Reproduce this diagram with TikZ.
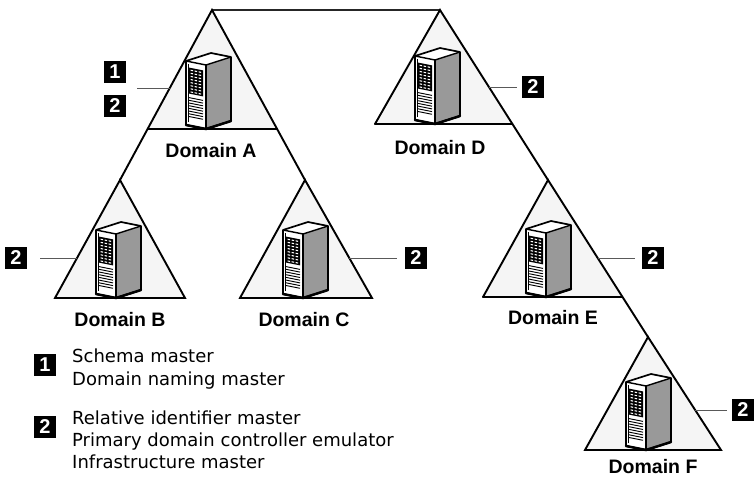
\documentclass[tikz,border=0pt]{standalone}
\usepackage{fontspec}
\setmainfont{DejaVu Sans}
\newfontfamily\labelfont{Liberation Sans}
\begin{document}
\begin{tikzpicture}[x=1pt,y=-1pt,
  domfill/.style={fill=black!4},
  edge/.style={draw=black, line width=1.9pt, line join=miter, line cap=round},
  topline/.style={draw=black!85, line width=1.5pt},
  lead/.style={draw=black!65, line width=0.9pt},
  badge/.style={fill=black, text=white, font=\labelfont\bfseries\fontsize{20}{20}\selectfont,
    minimum width=22pt, minimum height=22pt, inner sep=0pt},
  dom/.style={font=\labelfont\bfseries\fontsize{19.5}{19.5}\selectfont, inner sep=0pt},
  legend/.style={font=\fontsize{18}{21}\selectfont, anchor=base west, inner sep=0pt},
  pics/server/.style={code={
    % side face (stippled grey)
    \begin{scope}[yslant=0.32]
      \fill[black!40] (0,0) rectangle (25,-64);
    \end{scope}
    % front face with grill and vents
    \begin{scope}[yslant=-0.2]
      \fill[white] (-20,0) rectangle (0,-64);
      \draw[line width=0.6pt] (-18,-3) -- (-18,-61);
      \fill[black] (-17,-58) rectangle (-3,-32);
      \foreach \r in {0,...,7}{
        \foreach \c in {-15.5,-11.5,-7.5}{
          \fill[white] (\c,-56.2+3.1*\r) rectangle ++(2.6,1.1);
        }
      }
      \foreach \v in {0,...,7}{
        \draw[line width=0.9pt] (-17,-28+2.7*\v) -- (-3,-28+2.7*\v);
      }
    \end{scope}
    % top face
    \fill[white] (0,-64) -- (-20,-68) -- (5,-76) -- (25,-72) -- cycle;
    % outline
    \draw[line width=1.7pt, line join=round]
      (0,0) -- (-20,-4) -- (-20,-68) -- (5,-76) -- (25,-72) -- (25,-8) -- cycle;
    \draw[line width=1.4pt, line join=round] (-20,-68) -- (0,-64) -- (25,-72);
    \draw[line width=1.4pt] (0,-64) -- (0,0);
    \draw[line width=2.5pt, line cap=round] (-20,-4) -- (0,0) -- (25,-8);
  }},
]
\useasboundingbox (0,0) rectangle (754,478);

% apexes and base corners of the domain triangles
\coordinate (Atop) at (212,10);
\coordinate (Al) at (147.6,129); \coordinate (Ar) at (277.1,129);
\coordinate (Btop) at (120,180);
\coordinate (Bl) at (55,298); \coordinate (Br) at (185,298);
\coordinate (Ctop) at (305,180);
\coordinate (Cl) at (240,298); \coordinate (Cr) at (372,298);
\coordinate (Dtop) at (440,10);
\coordinate (Dl) at (375,124); \coordinate (Dr) at (512.4,124);
\coordinate (Etop) at (548,180);
\coordinate (El) at (483,297); \coordinate (Er) at (622.5,297);
\coordinate (Ftop) at (648,337);
\coordinate (Fl) at (585,450); \coordinate (Fr) at (721,450);

% triangle interiors
\fill[domfill] (Atop) -- (Al) -- (Ar) -- cycle;
\fill[domfill] (Btop) -- (Bl) -- (Br) -- cycle;
\fill[domfill] (Ctop) -- (Cl) -- (Cr) -- cycle;
\fill[domfill] (Dtop) -- (Dl) -- (Dr) -- cycle;
\fill[domfill] (Etop) -- (El) -- (Er) -- cycle;
\fill[domfill] (Ftop) -- (Fl) -- (Fr) -- cycle;

% trust link between the two tree roots
\draw[topline] (Atop) -- (Dtop);

% tree edges (triangle sides run on to the child domains)
\draw[edge] (Btop) -- (Atop) -- (Ctop);
\draw[edge] (Al) -- (Ar);
\draw[edge] (Bl) -- (Btop) -- (Br) -- cycle;
\draw[edge] (Cl) -- (Ctop) -- (Cr) -- cycle;
\draw[edge] (Dl) -- (Dtop) -- (Etop);
\draw[edge] (Dl) -- (Dr);
\draw[edge] (El) -- (Etop) -- (Ftop);
\draw[edge] (El) -- (Er);
\draw[edge] (Fl) -- (Ftop) -- (Fr) -- cycle;

% domain controllers
\pic at (206,129) {server};
\pic at (116,298) {server};
\pic at (303,298) {server};
\pic at (435,124) {server};
\pic at (546,297) {server};
\pic at (646,450) {server};

% domain names
\node[dom] (labA) at (211,151) {Domain A};
\node[dom] (labB) at (120,320) {Domain B};
\node[dom] (labC) at (304,320) {Domain C};
\node[dom] (labD) at (440,148) {Domain D};
\node[dom] (labE) at (553,318) {Domain E};
\node[dom] (labF) at (653,467) {Domain F};

% operations master badges
\node[badge] (a1) at (115,72) {1};
\node[badge] (a2) at (115,106) {2};
\node[badge] (b2) at (16,258) {2};
\node[badge] (c2) at (416,258) {2};
\node[badge] (d2) at (533,87) {2};
\node[badge] (e2) at (653,258) {2};
\node[badge] (f2) at (743,410) {2};

% leader lines from the triangles to the badges
\coordinate (aEdge) at (169.8,88);
\coordinate (aLead) at (137,88);
\coordinate (bEdge) at (77,258);
\coordinate (cEdge) at (349.3,258);
\coordinate (dEdge) at (488.9,87);
\coordinate (eEdge) at (597.7,258);
\coordinate (fEdge) at (695,410);
\draw[lead] (aEdge) -- (aLead);
\draw[lead, shorten >=13pt] (bEdge) -- (b2.east);
\draw[lead, shorten >=8pt] (cEdge) -- (c2.west);
\draw[lead, shorten >=5pt] (dEdge) -- (d2.west);
\draw[lead, shorten >=7pt] (eEdge) -- (e2.west);
\draw[lead, shorten >=5pt] (fEdge) -- (f2.west);

% legend
\node[badge] (k1) at (45,365) {1};
\node[badge] (k2) at (45,427) {2};
\node[legend] (k1a) at (72,362) {Schema master};
\node[legend] (k1b) at (72,385) {Domain naming master};
\node[legend] (k2a) at (72,424) {Relative identifier master};
\node[legend] (k2b) at (72,446) {Primary domain controller emulator};
\node[legend] (k2c) at (72,468) {Infrastructure master};
\end{tikzpicture}
\end{document}
